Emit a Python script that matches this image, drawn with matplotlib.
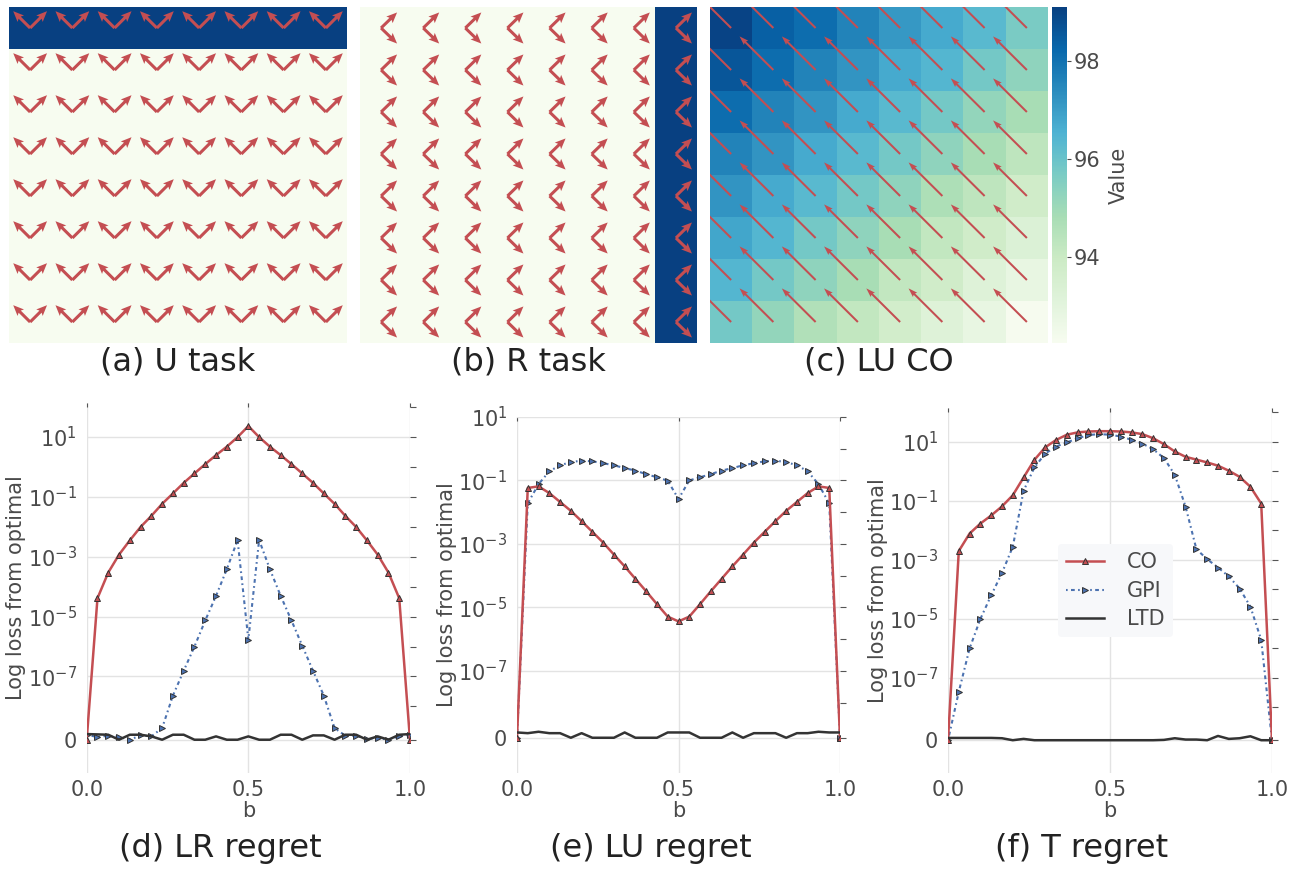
import numpy as np
import matplotlib
matplotlib.use("Agg")
import matplotlib.pyplot as plt
from matplotlib.ticker import FixedLocator, FixedFormatter

# --- data -------------------------------------------------------------
b = np.linspace(0, 1, 31)

# (d) LR regret
lr_co = [0, 4.1e-5, 2.95e-4, 1.17e-3, 3.5e-3, 9.8e-3, 2.3e-2, 5.8e-2, 0.129, 0.29,
         0.60, 1.23, 2.45, 4.7, 9.8, 22.9, 9.8, 4.7, 2.45, 1.23,
         0.60, 0.29, 0.129, 5.8e-2, 2.3e-2, 9.8e-3, 3.5e-3, 1.17e-3, 2.95e-4, 4.1e-5, 0]
lr_gpi = [1.5e-9, 0.8e-9, 1.2e-9, 0.8e-9, 0, 1.3e-9, 1.0e-9, 3.5e-9, 2.3e-8, 1.55e-7,
          1.0e-6, 7.4e-6, 4.9e-5, 3.8e-4, 3.6e-3, 1.7e-6, 3.6e-3, 3.8e-4, 4.9e-5, 7.4e-6,
          1.07e-6, 1.55e-7, 2.3e-8, 3.5e-9, 1.2e-9, 1.2e-9, 0.2e-9, 0.5e-9, 0, 1.0e-9, 1.5e-9]
lr_ltd = [1.7e-9, 1.6e-9, 1.5e-9, 0, 1.5e-9, 1.5e-9, 1.0e-9, 0, 1.5e-9, 1.5e-9,
          0, 0, 1.0e-9, 0, 0, 1.0e-9, 0, 0, 1.5e-9, 1.5e-9,
          0, 1.3e-9, 1.3e-9, 0, 1.5e-9, 1.5e-9, 0, 1.0e-9, 0, 1.5e-9, 1.7e-9]

# (e) LU regret
lu_co = [0, 5.8e-2, 6.5e-2, 4.0e-2, 2.1e-2, 1.1e-2, 5.2e-3, 2.4e-3, 1.1e-3, 4.6e-4,
         1.95e-4, 7.9e-5, 3.2e-5, 1.26e-5, 5.1e-6, 3.6e-6, 5.1e-6, 1.26e-5, 3.2e-5, 7.9e-5,
         1.95e-4, 4.6e-4, 1.1e-3, 2.4e-3, 5.2e-3, 1.1e-2, 2.1e-2, 4.0e-2, 6.5e-2, 5.8e-2, 0]
lu_gpi = [0, 1.9e-2, 7.6e-2, 0.195, 0.30, 0.38, 0.42, 0.40, 0.35, 0.30,
          0.245, 0.204, 0.158, 0.126, 0.098, 2.6e-2, 0.10, 0.126, 0.158, 0.204,
          0.245, 0.30, 0.35, 0.40, 0.42, 0.38, 0.30, 0.195, 7.6e-2, 1.9e-2, 0]
lu_ltd = [1.5e-9, 1.3e-9, 1.7e-9, 1.3e-9, 1.3e-9, 0, 1.3e-9, 0, 0, 0,
          1.5e-9, 0, 0, 0, 1.5e-9, 1.5e-9, 1.5e-9, 0, 0, 0,
          1.5e-9, 0, 1.3e-9, 1.3e-9, 1.3e-9, 0, 1.3e-9, 1.3e-9, 1.7e-9, 1.5e-9, 1.5e-9]

# (f) T regret
t_co = [0, 2.0e-3, 7.8e-3, 1.7e-2, 3.2e-2, 6.5e-2, 0.155, 0.62, 2.45, 6.5,
        11.5, 17.4, 20.9, 22.4, 22.9, 22.9, 22.4, 20.9, 18.2, 13.2,
        8.3, 4.7, 3.1, 2.5, 2.0, 1.55, 1.05, 0.65, 0.30, 8.1e-2, 0]
t_gpi = [0, 3.4e-8, 1.0e-6, 1.0e-5, 6.3e-5, 3.6e-4, 2.8e-3, 0.22, 1.35, 4.0,
         6.9, 9.5, 13.2, 17.0, 18.2, 17.4, 15.1, 11.7, 8.7, 5.6,
         2.8, 0.76, 6.3e-2, 2.3e-3, 1.05e-3, 5.5e-4, 2.75e-4, 1.07e-4, 2.6e-5, 1.95e-6, 0]
t_ltd = [0.7e-9, 0.7e-9, 0.7e-9, 0.7e-9, 0.7e-9, 0.6e-9, 0, 0.4e-9, 0, 0,
         0, 0, 0, 0, 0, 0, 0, 0, 0, 0,
         0.1e-9, 0.6e-9, 0.2e-9, 0.2e-9, 0, 1.3e-9, 0.4e-9, 0.6e-9, 1.2e-9, 0, 0]

# top row grids (8x8)
u_task = np.zeros((8, 8)); u_task[0, :] = 1
r_task = np.zeros((8, 8)); r_task[:, 7] = 1
u_arrows = [(-0.4, 0.4), (0.4, 0.4)]
r_arrows = [(0.38, 0.37), (0.38, -0.37)]
lu_co_arrow = (-0.8, 0.8)

lu_co_values = [
    [99.0, 98.4, 98.1, 97.6, 97.1, 96.7, 96.3, 95.7],
    [98.6, 98.1, 97.6, 97.2, 96.7, 96.4, 95.8, 95.3],
    [98.1, 97.6, 97.2, 96.7, 96.3, 95.8, 95.2, 94.8],
    [97.6, 97.2, 96.7, 96.3, 95.8, 95.3, 94.8, 94.3],
    [97.2, 96.7, 96.3, 95.8, 95.3, 94.7, 94.3, 93.8],
    [96.8, 96.4, 95.8, 95.3, 94.8, 94.2, 93.8, 93.3],
    [96.4, 95.8, 95.3, 94.8, 94.2, 93.8, 93.2, 92.8],
    [95.8, 95.2, 94.6, 94.2, 93.7, 93.2, 92.8, 92.3],
]

# --- style ------------------------------------------------------------
plt.rcParams["font.family"] = "DejaVu Sans"
red = "#c44e52"
blue = "#4c72b0"
dark = "#333333"
txt = "#4a4a4a"
W, H = 1312, 872

fig = plt.figure(figsize=(13.12, 8.72), dpi=100)


def box(x0, x1, y0, y1):
    return [x0 / W, 1 - y1 / H, (x1 - x0) / W, (y1 - y0) / H]


# --- heatmaps ---------------------------------------------------------
cx, cy = np.meshgrid(np.arange(8) + 0.5, 7.5 - np.arange(8))


def grid_panel(rect, values, arrows, label, vmin, vmax, width, hl, hal):
    ax = fig.add_axes(rect)
    im = ax.imshow(values, cmap="GnBu", vmin=vmin, vmax=vmax, extent=(0, 8, 0, 8),
                   origin="upper", aspect="auto", interpolation="nearest")
    for u, v in arrows:
        ax.quiver(cx, cy, np.full_like(cx, u), np.full_like(cy, v), color=red,
                  angles="xy", scale_units="xy", scale=1, width=width,
                  headwidth=3, headlength=hl, headaxislength=hal)
    ax.set_xlim(0, 8)
    ax.set_ylim(0, 8)
    ax.set_xticks([])
    ax.set_yticks([])
    for s in ax.spines.values():
        s.set_visible(False)
    x0 = rect[0] + rect[2] / 2
    fig.text(x0, 1 - 362 / H, label, ha="center", va="center", fontsize=23, color="#222222")
    return im


grid_panel(box(9, 347, 7, 343), u_task, u_arrows, "(a) U task", 0, 1, 0.009, 3.5, 3)
grid_panel(box(360, 697, 7, 343), r_task, r_arrows, "(b) R task", 0, 1, 0.009, 3.5, 3)
im = grid_panel(box(710, 1048, 7, 343), lu_co_values, [lu_co_arrow], "(c) LU CO",
                92.25, 99.1, 0.006, 4.5, 4)

cax = fig.add_axes(box(1052, 1067, 7, 343))
cb = fig.colorbar(im, cax=cax, ticks=[94, 96, 98])
cb.outline.set_visible(False)
cb.ax.tick_params(labelsize=15, colors=txt, length=3, width=0.8, pad=2)
cb.set_label("Value", fontsize=15, color=txt, labelpad=6)

# --- regret curves ----------------------------------------------------
def regret_panel(rect, co, gpi, ltd, top, label, legend=False):
    ax = fig.add_axes(rect)
    ax.plot(b, co, color=red, lw=1.8, marker="^", ms=4.5, mfc=red, mec=dark, mew=0.7,
            label="CO", zorder=4)
    ax.plot(b, gpi, color=blue, lw=1.5, ls=(0, (0.8, 1.6, 1.8, 1.6)), marker=">", ms=5,
            mfc=blue, mec=dark, mew=0.7, label="GPI", zorder=3)
    ax.plot(b, ltd, color=dark, lw=1.8, label="LTD", zorder=5)
    ax.set_yscale("symlog", linthresh=1e-8, linscale=1)
    ax.set_xlim(0, 1)
    ax.set_ylim(-1e-8, top)
    major = [0, 1e-7, 1e-5, 1e-3, 1e-1, 1e1]
    ax.yaxis.set_major_locator(FixedLocator(major))
    ax.yaxis.set_major_formatter(FixedFormatter(
        ["0", "$10^{-7}$", "$10^{-5}$", "$10^{-3}$", "$10^{-1}$", "$10^{1}$"]))
    ax.yaxis.set_minor_locator(FixedLocator([1e-8, 1e-6, 1e-4, 1e-2, 1, 1e2]))
    ax.set_xticks([0, 0.5, 1.0])
    ax.set_xticklabels(["0.0", "0.5", "1.0"])
    ax.grid(True, which="major", color="#e3e3e3", lw=1)
    ax.set_axisbelow(True)
    for s in ax.spines.values():
        s.set_visible(False)
    ax.tick_params(axis="y", which="both", left=False, right=True, direction="out",
                   length=4, width=0.8, color="#555555", labelsize=15, labelcolor=txt, pad=3)
    ax.tick_params(axis="x", which="both", bottom=False, top=True, direction="in",
                   length=3, width=0.8, color="#555555", labelsize=15, labelcolor=txt, pad=5)
    ax.set_xlabel("b", fontsize=15, color=txt, labelpad=1)
    ax.set_ylabel("Log loss from optimal", fontsize=15, color=txt, labelpad=1)
    fig.text(rect[0] + rect[2] / 2 - 28 / W, 1 - 848 / H, label, ha="center", va="center",
             fontsize=23, color="#222222")
    if legend:
        leg = ax.legend(loc="upper left", bbox_to_anchor=(0.34, 0.627), borderaxespad=0,
                        fontsize=15, frameon=True, facecolor="#f7f8fa", edgecolor="none",
                        framealpha=1, handlelength=1.8, handletextpad=1.1, labelspacing=0.4)
        for t in leg.get_texts():
            t.set_color(txt)
    return ax


regret_panel(box(86.7, 410, 403, 773), lr_co, lr_gpi, lr_ltd, 135, "(d) LR regret")
regret_panel(box(517, 840, 417, 773), lu_co, lu_gpi, lu_ltd, 10, "(e) LU regret")
regret_panel(box(948, 1272, 408, 773), t_co, t_gpi, t_ltd, 140, "(f) T regret", legend=True)

plt.savefig("out.png", dpi=100)
